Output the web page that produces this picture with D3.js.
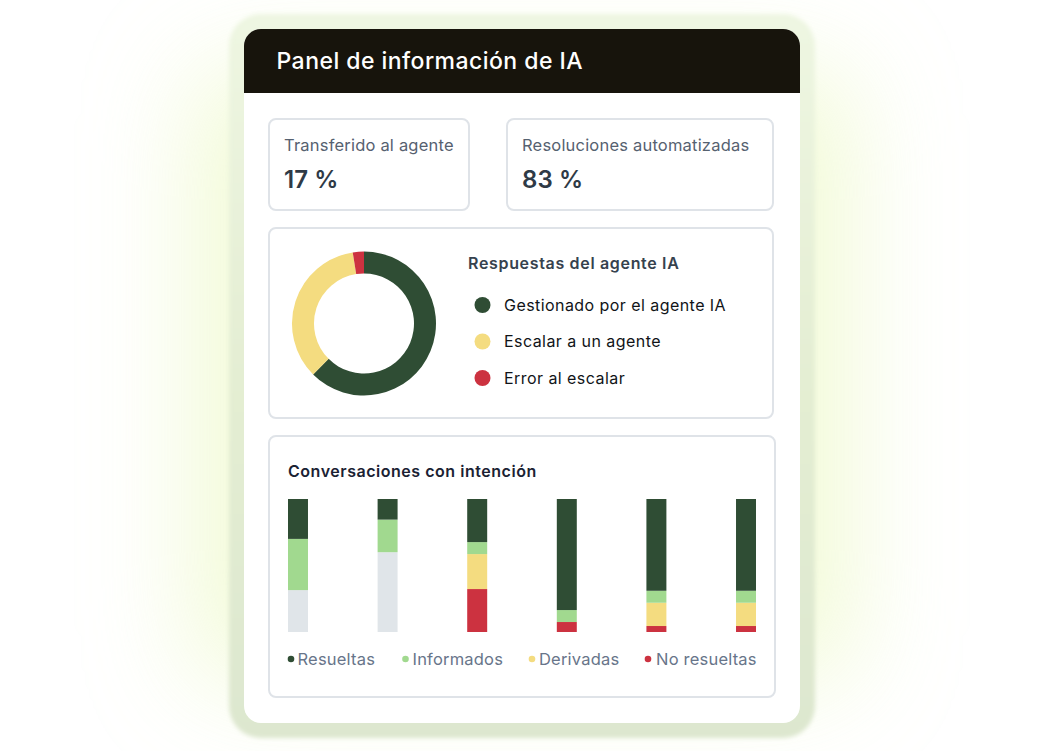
<!DOCTYPE html>
<html><head><meta charset="utf-8">
<script src="https://cdn.jsdelivr.net/npm/d3@7"></script>
<style>html,body{margin:0;padding:0;background:#fff}svg{display:block}text{font-family:Inter,"Noto Sans",sans-serif}</style>
</head><body><svg id="c" width="1044" height="751"></svg>
<script>
const title = "Panel de información de IA";
const kpiLabels = ["Transferido al agente","Resoluciones automatizadas"];
const kpiValues = ["17 %","83 %"];
const donutTitle = "Respuestas del agente IA";
const donutLabels = ["Gestionado por el agente IA","Escalar a un agente","Error al escalar"];
const donutValues = [62.5,35,2.5];
const donutColors = ["#2f4d34","#f4dc80","#cc3240"];
const barTitle = "Conversaciones con intención";
const barCats = ["c1","c2","c3","c4","c5","c6"];
const seriesNames = ["Resueltas","Informados","Derivadas","No resueltas","Vacío"];
const resueltas = [30,15.5,32.4,83.5,69,69];
const informados = [38.5,24.5,9,9,9,9];
const derivadas = [0,0,26.3,0,17.5,17.5];
const noResueltas = [0,0,32.3,7.5,4.5,4.5];
const vacio = [31.5,60,0,0,0,0];
const barColors = ["#2f4d34","#a1d98f","#f4dc80","#cc3240","#e0e5e9"];

const svg = d3.select("#c");
const defs = svg.append("defs");
const blur = defs.append("filter").attr("id","glow").attr("x","-40%").attr("y","-40%").attr("width","180%").attr("height","180%");
blur.append("feGaussianBlur").attr("stdDeviation",55);
const soft = defs.append("filter").attr("id","soft").attr("x","-5%").attr("y","-5%").attr("width","110%").attr("height","110%");
soft.append("feGaussianBlur").attr("stdDeviation",2);
const ringG = defs.append("linearGradient").attr("id","ring").attr("x1",0).attr("y1",0).attr("x2",0).attr("y2",1);
ringG.append("stop").attr("offset",0).attr("stop-color","#eef6e2");
ringG.append("stop").attr("offset",.5).attr("stop-color","#e4eed3");
ringG.append("stop").attr("offset",1).attr("stop-color","#dde7cf");

svg.append("rect").attr("x",195).attr("y",70).attr("width",654).attr("height",610).attr("rx",30)
  .attr("fill","#e8f7b8").attr("opacity",.6).attr("filter","url(#glow)");
svg.append("rect").attr("x",229).attr("y",14).attr("width",586).attr("height",724).attr("rx",32)
  .attr("fill","url(#ring)").attr("filter","url(#soft)");
svg.append("rect").attr("x",244).attr("y",29).attr("width",556).attr("height",694).attr("rx",17).attr("fill","#fff");
svg.append("path").attr("fill","#17140c")
  .attr("d","M244 93V46a17 17 0 0 1 17-17H783a17 17 0 0 1 17 17V93Z");
svg.append("text").attr("x",276.5).attr("y",69).attr("fill","#fff").attr("font-size",23).attr("letter-spacing",.46).attr("font-weight",500).text(title);

function box(x,y,w,h){svg.append("rect").attr("x",x).attr("y",y).attr("width",w).attr("height",h).attr("rx",7).attr("fill","#fff").attr("stroke","#dfe3e8").attr("stroke-width",2);}
const kpiBoxes=[[269,119,200,91],[507,119,266,91]];
kpiBoxes.forEach((b,i)=>{
  box(...b);
  svg.append("text").attr("x",b[0]+15).attr("y",151).attr("fill","#566170").attr("font-size",16.5).attr("letter-spacing",.2).text(kpiLabels[i]);
  svg.append("text").attr("x",b[0]+15).attr("y",187.5).attr("fill","#2f3a46").attr("font-size",24).attr("letter-spacing",.1).attr("font-weight",600).text(kpiValues[i]);
});
box(269,228,504,190);
box(269,436,506,261);

// donut
const pie=d3.pie().sort(null).value(d=>d);
const arc=d3.arc().innerRadius(50).outerRadius(72);
svg.append("g").attr("transform","translate(364,323.5)").selectAll("path").data(pie(donutValues)).join("path")
  .attr("d",arc).attr("fill",(d,i)=>donutColors[i]);
svg.append("text").attr("x",468).attr("y",269).attr("fill","#36424e").attr("font-size",16).attr("letter-spacing",.67).attr("font-weight",600).text(donutTitle);
const ly=d3.scalePoint().domain(donutLabels).range([305,378]);
donutLabels.forEach((l,i)=>{
  svg.append("circle").attr("cx",482.5).attr("cy",ly(l)).attr("r",8).attr("fill",donutColors[i]);
  svg.append("text").attr("x",504).attr("y",ly(l)+5.5).attr("fill","#111418").attr("font-size",16).attr("letter-spacing",.44).text(l);
});

// bars
svg.append("text").attr("x",288).attr("y",477).attr("fill","#1b2233").attr("font-size",16).attr("letter-spacing",.53).attr("font-weight",600).text(barTitle);
const x=d3.scaleBand().domain(barCats).range([288,756]).paddingInner(.777).paddingOuter(0);
const y=d3.scaleLinear().domain([0,100]).range([632,499]);
const rows=barCats.map((c,i)=>({c,Resueltas:resueltas[i],Informados:informados[i],Derivadas:derivadas[i],"No resueltas":noResueltas[i],"Vacío":vacio[i]}));
// stacked so that the first series sits on top
const stack=d3.stack().keys(seriesNames.slice().reverse());
svg.append("g").selectAll("g").data(stack(rows)).join("g")
  .attr("fill",d=>barColors[seriesNames.indexOf(d.key)])
  .selectAll("rect").data(d=>d).join("rect")
  .attr("x",d=>x(d.data.c)).attr("width",x.bandwidth())
  .attr("y",d=>y(d[1])).attr("height",d=>y(d[0])-y(d[1]));
const legendX=[297.5,412.5,539,656];
const dotX=[291,405.5,532,648];
seriesNames.slice(0,4).forEach((s,i)=>{
  svg.append("circle").attr("cx",dotX[i]).attr("cy",659).attr("r",3.3).attr("fill",barColors[i]);
  svg.append("text").attr("x",legendX[i]).attr("y",665).attr("fill","#68758a").attr("font-size",16.5).attr("letter-spacing",.2).text(s);
});
</script></body></html>
